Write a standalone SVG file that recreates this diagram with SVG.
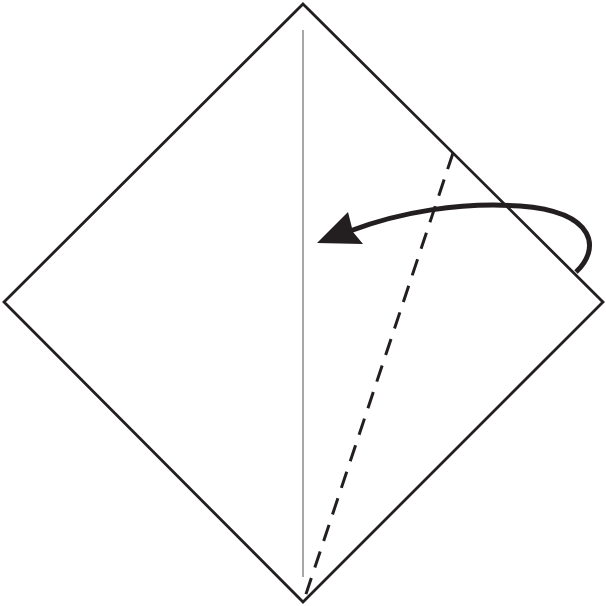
<svg xmlns="http://www.w3.org/2000/svg" width="606" height="606" viewBox="0 0 606 606">
<style>
.edge{fill:#fff;stroke:#231f20;stroke-width:2.8;stroke-linejoin:miter}
.crease{stroke:#6e6e6e;stroke-width:1.2;fill:none}
.valley{stroke:#231f20;stroke-width:3;fill:none;stroke-dasharray:17,11}
.arrow{stroke:#231f20;stroke-width:5;fill:none;stroke-linecap:butt}
.head{fill:#231f20}
</style>
<rect width="606" height="606" fill="#fff"/>
<g id="paper">
<polygon class="edge" points="303,4 603,302 303,602 4,302"/>
</g>
<g id="creases">
<line class="crease" x1="303" y1="30" x2="303" y2="577"/>
<line class="valley" x1="453" y1="153" x2="304" y2="600"/>
</g>
<g id="connectors">
<path class="arrow" d="M 576,272 C 600,250 598,212 520,206 C 460,202 400,212 350,231"/>
<polygon class="head" points="317,243 348,212 353,232 363,244"/>
</g>
</svg>
